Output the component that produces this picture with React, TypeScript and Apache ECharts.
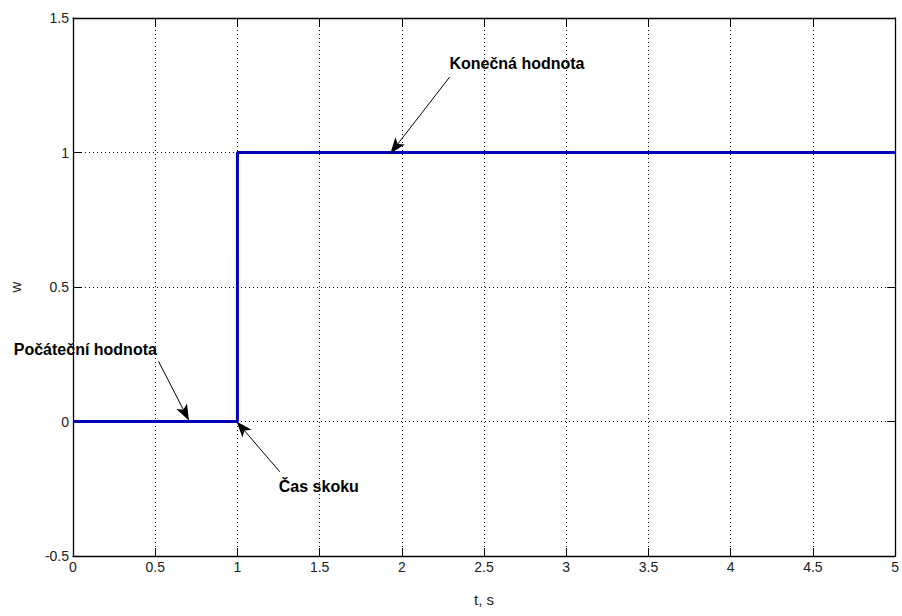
import React, { useEffect, useRef } from "react";
import * as echarts from "echarts";

const stepX = [0, 1, 1, 5];
const stepY = [0, 0, 1, 1];
const xTicks = { min: 0, max: 5, interval: 0.5 };
const yTicks = { min: -0.5, max: 1.5, interval: 0.5 };
const xName = "t, s";
const yName = "w";
const annLabels = ["Počáteční hodnota", "Čas skoku", "Konečná hodnota"];
const annTextPos = [
  [0.075, 0.269],
  [1.495, -0.243],
  [2.7, 1.332],
];
const arrowFrom = [
  [0.52, 0.224],
  [1.258, -0.187],
  [2.29, 1.28],
];
const arrowTo = [
  [0.705, 0.004],
  [0.995, 0.0],
  [1.93, 0.996],
];

const FONT = "'Liberation Sans Narrow', 'Liberation Sans', Arial, sans-serif";

export default function App() {
  const ref = useRef<HTMLDivElement>(null);
  useEffect(() => {
    if (!ref.current) return;
    const chart = echarts.init(ref.current, null, { renderer: "svg" });
    const fmt = (v: number) => String(v);
    const mainAxisLabel = { color: "#222", fontSize: 14, fontFamily: FONT, formatter: fmt };
    const tick = { show: true, inside: true, length: 8, lineStyle: { color: "#000", width: 1 } };
    const axisLine = { show: true, onZero: false, lineStyle: { color: "#000", width: 1.3 } };
    const split = { show: true, lineStyle: { color: "#000", type: [1, 3] as any, width: 1 } };
    chart.setOption({
      animation: false,
      backgroundColor: "#fff",
      grid: { left: 72, right: 6, top: 18, bottom: 60, containLabel: false },
      xAxis: [
        {
          type: "value",
          ...xTicks,
          position: "bottom",
          axisLine,
          axisTick: tick,
          axisLabel: { ...mainAxisLabel, margin: 4 },
          splitLine: split,
          name: xName,
          nameLocation: "middle",
          nameGap: 36,
          nameTextStyle: { color: "#222", fontSize: 15, fontFamily: FONT },
        },
        {
          type: "value",
          ...xTicks,
          position: "top",
          axisLine,
          axisTick: tick,
          axisLabel: { show: false },
          splitLine: { show: false },
        },
      ],
      yAxis: [
        {
          type: "value",
          ...yTicks,
          position: "left",
          axisLine,
          axisTick: tick,
          axisLabel: { ...mainAxisLabel, margin: 4 },
          splitLine: split,
          name: yName,
          nameLocation: "middle",
          nameRotate: 90,
          nameGap: 50,
          nameTextStyle: { color: "#222", fontSize: 15, fontFamily: FONT },
        },
        {
          type: "value",
          ...yTicks,
          position: "right",
          axisLine,
          axisTick: tick,
          axisLabel: { show: false },
          splitLine: { show: false },
        },
      ],
      series: [
        {
          type: "line",
          data: stepX.map((x, i) => [x, stepY[i]]),
          showSymbol: false,
          symbol: "none",
          lineStyle: { color: "#0000b4", width: 3 },
          z: 3,
          markLine: {
            silent: true,
            symbol: ["none", "arrow"],
            symbolSize: [9, 16],
            label: { show: false },
            lineStyle: { color: "#000", width: 1, type: "solid" },
            data: arrowFrom.map((f, i) => [
              { coord: f },
              { coord: arrowTo[i] },
            ]),
          },
          markPoint: {
            silent: true,
            symbol: "circle",
            symbolSize: 1,
            itemStyle: { color: "transparent" },
            label: {
              show: true,
              position: "inside",
              color: "#000",
              fontSize: 16,
              fontWeight: "bold",
              fontFamily: FONT,
              formatter: (p: any) => p.name,
            },
            data: annLabels.map((t, i) => ({ name: t, coord: annTextPos[i] })),
          },
        },
      ],
    });
    return () => chart.dispose();
  }, []);
  return (
    <div
      ref={ref}
      style={{ position: "absolute", left: 0, top: 0, width: 902, height: 616 }}
    />
  );
}
